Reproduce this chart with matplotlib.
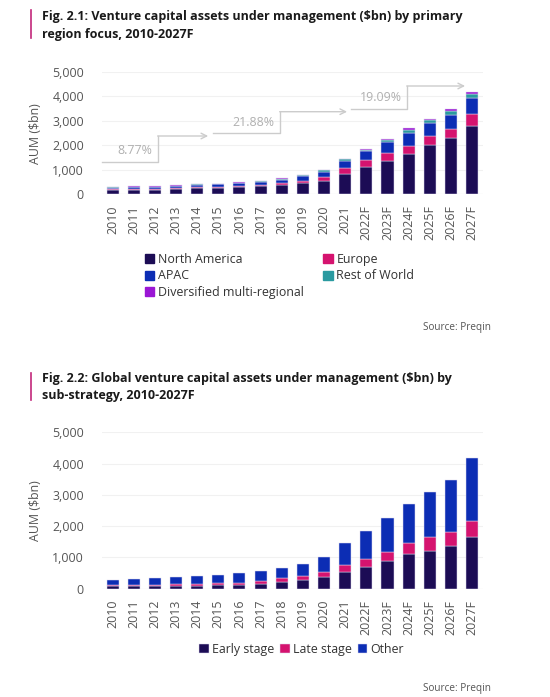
import matplotlib.pyplot as plt
import numpy as np
from matplotlib.patches import Patch

years = ["2010", "2011", "2012", "2013", "2014", "2015", "2016", "2017", "2018",
         "2019", "2020", "2021", "2022F", "2023F", "2024F", "2025F", "2026F", "2027F"]

# Fig 2.1 - by primary region focus ($bn)
north_america = [175, 185, 190, 215, 245, 260, 285, 320, 365, 455, 565, 845, 1100, 1370, 1640, 2000, 2300, 2810]
europe = [30, 35, 35, 40, 45, 50, 55, 60, 80, 95, 160, 230, 285, 310, 315, 365, 370, 490]
apac = [55, 65, 70, 80, 90, 95, 110, 115, 145, 180, 205, 300, 370, 450, 550, 550, 590, 645]
rest_of_world = [20, 22, 22, 25, 25, 22, 25, 38, 40, 45, 45, 60, 70, 85, 120, 120, 140, 140]
diversified = [10, 13, 13, 13, 10, 10, 15, 20, 20, 25, 25, 25, 28, 42, 69, 63, 72, 79]

# Fig 2.2 - by sub-strategy ($bn)
early_stage = [70, 75, 75, 90, 100, 110, 125, 160, 213, 277, 362, 522, 682, 884, 1097, 1214, 1374, 1640]
late_stage = [35, 40, 40, 50, 60, 60, 70, 80, 117, 128, 160, 223, 276, 298, 352, 426, 436, 532]
other = [185, 205, 215, 233, 255, 267, 295, 313, 320, 395, 478, 715, 895, 1075, 1245, 1458, 1662, 1992]

# CAGR callouts
cagr_labels = ["8.77%", "21.88%", "19.09%"]

NAVY = "#1c0c55"
PINK = "#d5136f"
BLUE = "#0c2db4"
TEAL = "#2a9aa0"
PURPLE = "#9a16d4"
GREY = "#555555"

plt.rcParams["font.family"] = ["Open Sans", "DejaVu Sans"]

fig = plt.figure(figsize=(5.5, 6.97), dpi=100)
fig.patch.set_facecolor("white")

ax1 = fig.add_axes([0.1855, 0.7212, 0.692, 0.1755])
ax2 = fig.add_axes([0.1855, 0.1554, 0.692, 0.2244])


def style_axis(ax):
    ax.set_xlim(-0.5, len(years) - 0.5)
    ax.set_ylim(0, 5000)
    ax.set_yticks(range(0, 5001, 1000))
    ax.set_yticklabels([f"{v:,}" for v in range(0, 5001, 1000)])
    ax.set_xticks(range(len(years)))
    ax.set_xticklabels(years, rotation=90)
    ax.tick_params(axis="both", length=0, labelsize=8.9, colors=GREY)
    ax.tick_params(axis="y", pad=13)
    ax.tick_params(axis="x", pad=8)
    for s in ax.spines.values():
        s.set_visible(False)
    ax.grid(axis="y", color="#f1f1f1", linewidth=0.8)
    ax.axhline(0, color="#dedede", linewidth=0.8, zorder=1)
    ax.set_axisbelow(True)
    ax.set_ylabel("AUM ($bn)", fontsize=8.9, color=GREY, labelpad=7)


def stack(ax, series, colors, labels):
    x = np.arange(len(years))
    bottom = np.zeros(len(years))
    for vals, c, lab in zip(series, colors, labels):
        ax.bar(x, vals, bottom=bottom, width=0.57, color=c, label=lab,
               edgecolor="#ddd6ee", linewidth=0.35, zorder=2)
        bottom += np.array(vals)


# ---- Fig 2.1
stack(ax1, [north_america, europe, apac, rest_of_world, diversified],
      [NAVY, PINK, BLUE, TEAL, PURPLE],
      ["North America", "Europe", "APAC", "Rest of World", "Diversified multi-regional"])
style_axis(ax1)

# step arrows with CAGR figures
steps = [(-0.5, 2.15, 4.52, 1320, 2384), (4.75, 7.92, 11.09, 2506, 3377), (11.28, 13.93, 16.67, 3487, 4428)]
text_pos = [(1.06, 1811), (6.65, 2956), (12.7, 3978)]
for (x0, xc, x1, y0, y1), lab, (tx, ty) in zip(steps, cagr_labels, text_pos):
    ax1.plot([x0, xc, xc], [y0, y0, y1], color="#cccccc", lw=1.0, clip_on=False, zorder=3)
    ax1.annotate("", xy=(x1, y1), xytext=(xc - 0.02, y1),
                 arrowprops=dict(arrowstyle="->", color="#cccccc", lw=1.0,
                                 shrinkA=0, shrinkB=0, mutation_scale=10),
                 annotation_clip=False, zorder=3)
    ax1.text(tx, ty, lab, color="#b0b0b0", fontsize=8.9, ha="center", va="center")

h1 = [Patch(color=c) for c in [NAVY, BLUE, PURPLE, PINK, TEAL]]
l1 = ["North America", "APAC", "Diversified multi-regional", "Europe", "Rest of World"]
fig.legend(h1, l1, ncol=2, loc="upper left", bbox_to_anchor=(0.263, 0.637),
           frameon=False, fontsize=8.9, handlelength=0.75, handleheight=0.75,
           handletextpad=0.3, columnspacing=1.6, labelspacing=0.28,
           labelcolor="#333333", borderaxespad=0, borderpad=0)

# ---- Fig 2.2
stack(ax2, [early_stage, late_stage, other], [NAVY, PINK, BLUE],
      ["Early stage", "Late stage", "Other"])
style_axis(ax2)
ax2.legend(loc="upper center", bbox_to_anchor=(0.525, -0.345), ncol=3, frameon=False,
           fontsize=8.9, handlelength=0.75, handleheight=0.75, handletextpad=0.3,
           columnspacing=0.45, labelcolor="#333333", borderaxespad=0, borderpad=0)

# titles, accents and sources
title1 = "Fig. 2.1: Venture capital assets under management ($bn) by primary\nregion focus, 2010-2027F"
title2 = "Fig. 2.2: Global venture capital assets under management ($bn) by\nsub-strategy, 2010-2027F"
fig.text(0.0764, 0.985, title1, fontsize=9.0, fontweight="bold", color="#1a1a1a",
         va="top", ha="left", linespacing=1.45)
fig.text(0.0764, 0.467, title2, fontsize=9.0, fontweight="bold", color="#1a1a1a",
         va="top", ha="left", linespacing=1.45)
fig.add_artist(plt.Line2D([0.057, 0.057], [1 - 10 / 697, 1 - 38 / 697], color="#c2277a", lw=1.2))
fig.add_artist(plt.Line2D([0.057, 0.057], [1 - 373 / 697, 1 - 400 / 697], color="#c2277a", lw=1.2))

fig.text(0.892, 1 - 327 / 697, "Source: Preqin", fontsize=7.2, color=GREY, ha="right", va="center")
fig.text(0.892, 1 - 688 / 697, "Source: Preqin", fontsize=7.2, color=GREY, ha="right", va="center")

fig.savefig("out.png", dpi=100, facecolor="white")
